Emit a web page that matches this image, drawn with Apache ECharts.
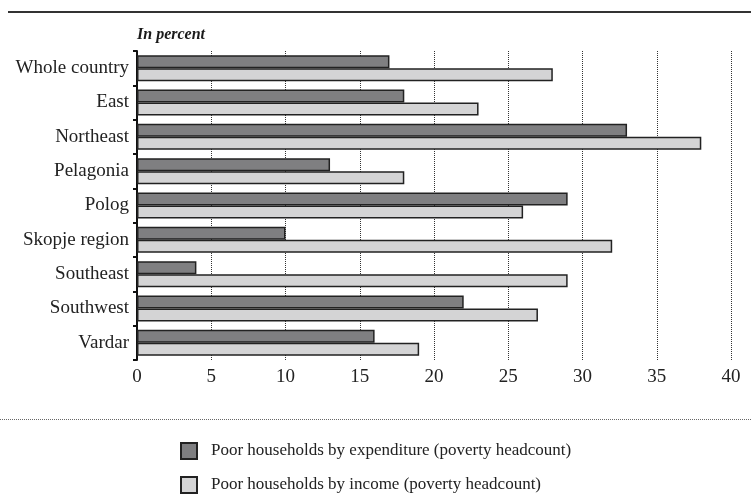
<!DOCTYPE html>
<html>
<head>
<meta charset="utf-8">
<script src="https://cdn.jsdelivr.net/npm/echarts@6/dist/echarts.min.js"></script>
<style>
  html, body { margin: 0; padding: 0; background: #fff; }
  #chart { width: 751px; height: 504px; }
</style>
</head>
<body>
<div id="chart"></div>
<script>
// Regions of the country, top to bottom
const regions = ['Whole country', 'East', 'Northeast', 'Pelagonia', 'Polog',
                 'Skopje region', 'Southeast', 'Southwest', 'Vardar'];
// Share of poor households, percent
const byExpenditure = [17, 18, 33, 13, 29, 10, 4, 22, 16];
const byIncome = [28, 23, 38, 18, 26, 32, 29, 27, 19];
const seriesNames = ['Poor households by expenditure (poverty headcount)',
                     'Poor households by income (poverty headcount)'];
const axisTicks = { min: 0, max: 40, step: 5 };

const FONT = '"Liberation Serif", "DejaVu Serif", serif';
const chart = echarts.init(document.getElementById('chart'), null, { renderer: 'canvas' });

chart.setOption({
  backgroundColor: '#ffffff',
  animation: false,
  title: {
    text: 'In percent',
    left: 132, top: 22,
    textStyle: { fontFamily: FONT, fontSize: 16, fontWeight: 'bold', fontStyle: 'italic', color: '#1a1a1a' }
  },
  graphic: [
    { type: 'line', shape: { x1: 8, y1: 12, x2: 751, y2: 12 },
      style: { stroke: '#333', lineWidth: 2 } },
    { type: 'line', shape: { x1: 0, y1: 419.5, x2: 751, y2: 419.5 },
      style: { stroke: '#666', lineWidth: 1, lineDash: [1, 1] } }
  ],
  legend: {
    orient: 'vertical',
    left: 175, top: 437,
    itemWidth: 16, itemHeight: 16, itemGap: 16,
    icon: 'rect',
    textStyle: { fontFamily: FONT, fontSize: 17, color: '#222', padding: [0, 0, 0, 9] },
    data: seriesNames
  },
  grid: { left: 137, right: 20, top: 51, bottom: 144, containLabel: false },
  xAxis: {
    type: 'value',
    min: axisTicks.min, max: axisTicks.max, interval: axisTicks.step,
    axisLine: { show: false },
    axisTick: { show: false },
    splitLine: { show: true, lineStyle: { color: '#333', width: 1, type: [1, 1] } },
    axisLabel: { fontFamily: FONT, fontSize: 19, color: '#222', margin: 8 }
  },
  yAxis: {
    type: 'category',
    inverse: true,
    data: regions,
    axisLine: { show: true, lineStyle: { color: '#111', width: 2 } },
    axisTick: { show: true, length: 4, lineStyle: { color: '#111', width: 2 } },
    axisLabel: { fontFamily: FONT, fontSize: 19, color: '#222', margin: 8 }
  },
  series: [
    {
      name: seriesNames[0], type: 'bar', data: byExpenditure,
      barWidth: 13, barGap: '0%',
      itemStyle: { color: '#7f7f81', borderColor: '#222', borderWidth: 1.5 }
    },
    {
      name: seriesNames[1], type: 'bar', data: byIncome,
      barWidth: 13, barGap: '0%',
      itemStyle: { color: '#d4d4d5', borderColor: '#222', borderWidth: 1.5 }
    }
  ]
});
</script>
</body>
</html>
